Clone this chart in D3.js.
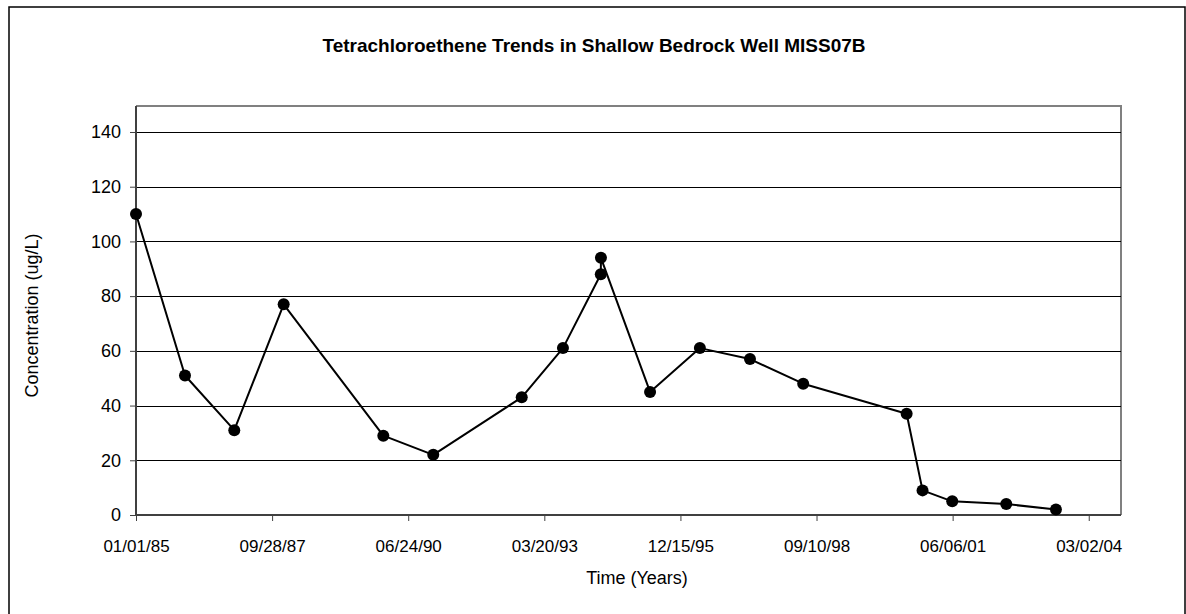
<!DOCTYPE html>
<html>
<head>
<meta charset="utf-8">
<script src="https://cdn.jsdelivr.net/npm/d3@7/dist/d3.min.js"></script>
<style>
  html, body { margin: 0; padding: 0; background: #ffffff; }
  svg { display: block; }
  text { font-family: Arial, "Liberation Sans", sans-serif; fill: #000; }
</style>
</head>
<body>
<svg id="chart" width="1186" height="614"></svg>
<script>
// Sampling dates and PCE concentrations (ug/L) for well MISS07B
const sampleDates = [
  "1985-01-01", "1985-12-27", "1986-12-24", "1987-12-22", "1989-12-23",
  "1990-12-25", "1992-10-05", "1993-08-04", "1994-05-09", "1994-05-10",
  "1995-05-06", "1996-05-06", "1997-05-09", "1998-06-04", "2000-07-03",
  "2000-10-28", "2001-06-03", "2002-07-05", "2003-07-05"
];
const concentrations = [
  110, 51, 31, 77, 29,
  22, 43, 61, 88, 94,
  45, 61, 57, 48, 37,
  9, 5, 4, 2
];

// Axis settings: date axis every 1000 days, value axis every 20
const xStart = "1985-01-01";
const xEnd = "2004-10-25";
const xTickStepDays = 1000;
const yTicks = [0, 20, 40, 60, 80, 100, 120, 140];
const yMax = 149.5;

const chartTitle = "Tetrachloroethene Trends in Shallow Bedrock Well MISS07B";
const xTitle = "Time (Years)";
const yTitle = "Concentration (ug/L)";

const parse = d3.utcParse("%Y-%m-%d");
const fmt = d3.utcFormat("%m/%d/%y");

const svg = d3.select("#chart");
const plot = { left: 136, right: 1121, top: 106, bottom: 515 };
const FONT = "Arial, 'Liberation Sans', sans-serif";

// Outer chart frame
svg.append("rect")
  .attr("x", 9).attr("y", 7)
  .attr("width", 1176).attr("height", 620)
  .attr("fill", "#fff")
  .attr("stroke", "#000").attr("stroke-width", 1.5);

const x = d3.scaleUtc()
  .domain([parse(xStart), parse(xEnd)])
  .range([plot.left, plot.right]);

const y = d3.scaleLinear()
  .domain([0, yMax])
  .range([plot.bottom, plot.top]);

// Tick dates every 1000 days from the axis start
const xTickValues = d3.range(0, 8).map(i => d3.utcDay.offset(parse(xStart), i * xTickStepDays));

// Plot area frame (top and right edges, gray)
svg.append("path")
  .attr("d", `M${plot.left},${plot.top}H${plot.right}V${plot.bottom}`)
  .attr("fill", "none")
  .attr("stroke", "#808080")
  .attr("stroke-width", 2);

// Horizontal gridlines
svg.append("g")
  .selectAll("line")
  .data(yTicks.filter(v => v > 0))
  .join("line")
  .attr("x1", plot.left).attr("x2", plot.right)
  .attr("y1", d => Math.round(y(d)) + 0.5).attr("y2", d => Math.round(y(d)) + 0.5)
  .attr("stroke", "#000").attr("stroke-width", 1);

// Y axis
const yAxis = svg.append("g")
  .attr("transform", `translate(${plot.left},0)`)
  .call(d3.axisLeft(y).tickValues(yTicks).tickSize(6).tickPadding(9).tickSizeOuter(0));
yAxis.select(".domain").remove();
yAxis.selectAll(".tick line").attr("stroke", "#404040").attr("stroke-width", 1);
yAxis.selectAll(".tick text").attr("font-size", 18).attr("font-family", FONT).attr("fill", "#000");
svg.append("line")
  .attr("x1", plot.left).attr("x2", plot.left)
  .attr("y1", plot.top).attr("y2", plot.bottom)
  .attr("stroke", "#404040").attr("stroke-width", 2);

// X axis
const xAxis = svg.append("g")
  .attr("transform", `translate(0,${plot.bottom})`)
  .call(d3.axisBottom(x).tickValues(xTickValues).tickFormat(fmt).tickSize(6).tickPadding(19).tickSizeOuter(0));
xAxis.select(".domain").remove();
xAxis.selectAll(".tick line").attr("stroke", "#404040").attr("stroke-width", 1);
xAxis.selectAll(".tick text").attr("font-size", 17).attr("font-family", FONT).attr("fill", "#000");
svg.append("line")
  .attr("x1", plot.left).attr("x2", plot.right)
  .attr("y1", plot.bottom).attr("y2", plot.bottom)
  .attr("stroke", "#404040").attr("stroke-width", 2);

// Data series
const data = sampleDates.map((d, i) => ({ date: parse(d), value: concentrations[i] }));

svg.append("path")
  .datum(data)
  .attr("fill", "none")
  .attr("stroke", "#000")
  .attr("stroke-width", 2)
  .attr("stroke-linejoin", "round")
  .attr("d", d3.line().x(d => x(d.date)).y(d => y(d.value)));

svg.append("g")
  .selectAll("circle")
  .data(data)
  .join("circle")
  .attr("cx", d => x(d.date))
  .attr("cy", d => y(d.value))
  .attr("r", 6)
  .attr("fill", "#000");

// Titles
svg.append("text")
  .attr("x", 594).attr("y", 52)
  .attr("text-anchor", "middle")
  .attr("font-size", 19).attr("font-weight", "bold")
  .text(chartTitle);

svg.append("text")
  .attr("x", 637).attr("y", 584)
  .attr("text-anchor", "middle")
  .attr("font-size", 18)
  .text(xTitle);

svg.append("text")
  .attr("transform", `translate(38,${(plot.top + plot.bottom) / 2 + 5}) rotate(-90)`)
  .attr("text-anchor", "middle")
  .attr("font-size", 18)
  .text(yTitle);
</script>
</body>
</html>
